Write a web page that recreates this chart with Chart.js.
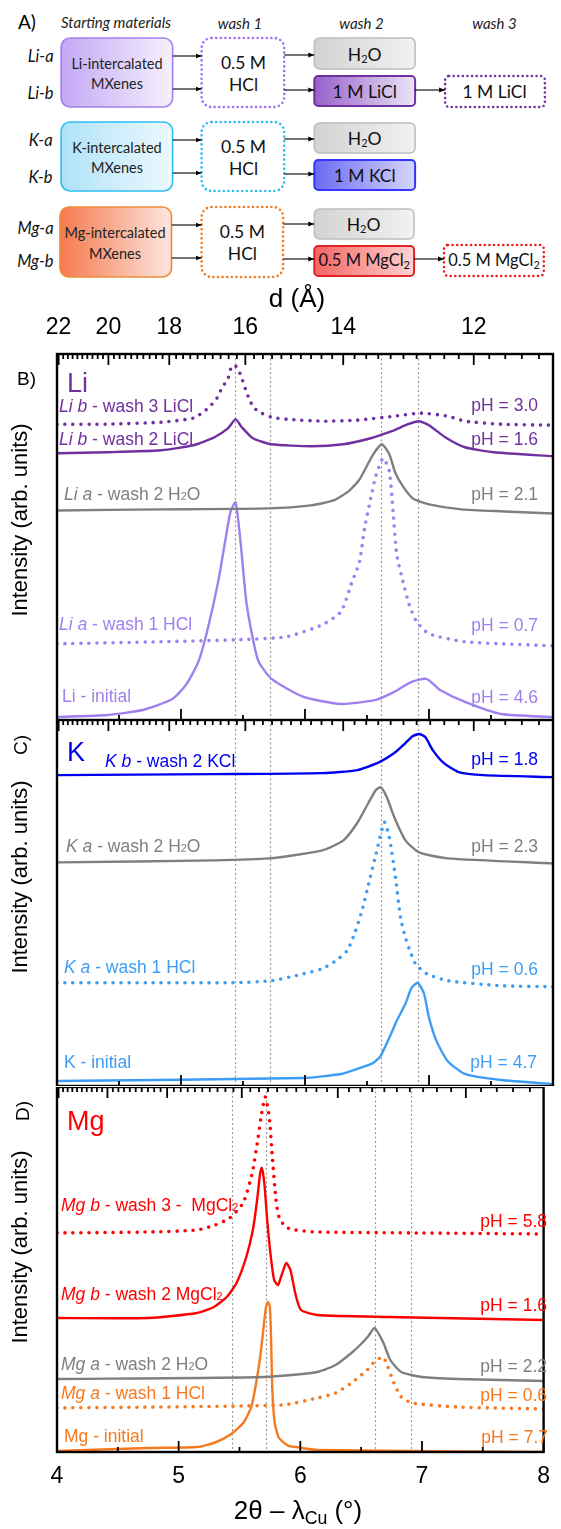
<!DOCTYPE html>
<html>
<head>
<meta charset="utf-8">
<script src="https://cdn.jsdelivr.net/npm/chart.js@4.4.1/dist/chart.umd.min.js"></script>
<style>
  html, body { margin: 0; padding: 0; background: #fff; }
  #page { position: relative; width: 561px; height: 1529px; overflow: hidden; font-family: "Liberation Sans", Arial, sans-serif; }
  #page canvas { position: absolute; left: 0; }
  #schema { position: absolute; left: 0; top: 0; }
  .lbl { position: absolute; white-space: nowrap; line-height: 1; transform: translateY(-50%); font-size: 17.5px; }
  .rot { position: absolute; white-space: nowrap; line-height: 1; transform: translate(-50%, -50%) rotate(-90deg); }
  .mid { position: absolute; white-space: nowrap; line-height: 1; transform: translate(-50%, -50%); }
  .s { font-size: 0.62em; }
  sub { font-size: 0.68em; vertical-align: -0.28em; line-height: 0; }
</style>
</head>
<body>
<div id="page">
  <svg id="schema" width="561" height="285" font-family="Lato, 'Open Sans', sans-serif" dominant-baseline="central">
    <defs>
      <linearGradient id="gLi"><stop offset="0" stop-color="#C4A8F5"/><stop offset="1" stop-color="#F5F1FD"/></linearGradient>
      <linearGradient id="gK"><stop offset="0" stop-color="#AEE2F8"/><stop offset="1" stop-color="#EDF9FE"/></linearGradient>
      <linearGradient id="gMg"><stop offset="0" stop-color="#F47A4E"/><stop offset="1" stop-color="#FDE6DE"/></linearGradient>
      <linearGradient id="gH2O"><stop offset="0" stop-color="#D3D3D3"/><stop offset="1" stop-color="#F2F2F2"/></linearGradient>
      <linearGradient id="gLiCl"><stop offset="0" stop-color="#9560C9"/><stop offset="1" stop-color="#ECE4F6"/></linearGradient>
      <linearGradient id="gKCl"><stop offset="0" stop-color="#6A6AF3"/><stop offset="1" stop-color="#D6D6FD"/></linearGradient>
      <linearGradient id="gMgCl"><stop offset="0" stop-color="#F56464"/><stop offset="1" stop-color="#FDD3D3"/></linearGradient>
      <marker id="ah" viewBox="0 0 10 10" refX="10" refY="5" markerWidth="6" markerHeight="6" orient="auto" markerUnits="userSpaceOnUse">
        <path d="M0,1 L10,5 L0,9 z" fill="#000"/>
      </marker>
    </defs>
    <text x="18" y="21" font-size="19">A)</text>
    <g font-style="italic" font-size="15" text-anchor="middle" fill="#222">
      <text x="116" y="22">Starting materials</text>
      <text x="240" y="23">wash 1</text>
      <text x="361.5" y="23">wash 2</text>
      <text x="494.5" y="23">wash 3</text>
    </g>
    <g font-style="italic" font-size="16.5" text-anchor="end" fill="#111">
      <text x="53.6" y="56">Li-a</text>
      <text x="53.6" y="93">Li-b</text>
      <text x="52.6" y="140">K-a</text>
      <text x="52.6" y="177">K-b</text>
      <text x="53.6" y="228">Mg-a</text>
      <text x="53.6" y="261">Mg-b</text>
    </g>
    <!-- starting materials -->
    <rect x="61.1" y="38" width="111.5" height="69" rx="9" fill="url(#gLi)" stroke="#A480F0" stroke-width="1.6"/>
    <rect x="61.1" y="122" width="111.5" height="69" rx="9" fill="url(#gK)" stroke="#2EBFF2" stroke-width="1.6"/>
    <rect x="60" y="207" width="111.5" height="70" rx="9" fill="url(#gMg)" stroke="#F08A3A" stroke-width="1.6"/>
    <g font-size="14.5" text-anchor="middle" fill="#222">
      <text x="117" y="63">Li-intercalated</text>
      <text x="117" y="83">MXenes</text>
      <text x="117" y="147">K-intercalated</text>
      <text x="117" y="167">MXenes</text>
      <text x="115" y="232">Mg-intercalated</text>
      <text x="115" y="253">MXenes</text>
    </g>
    <!-- wash 1 -->
    <g fill="#fff" stroke-width="2.6" stroke-dasharray="0 4.6" stroke-linecap="round">
      <rect x="201.6" y="38" width="82.6" height="69" rx="10" stroke="#A070F0"/>
      <rect x="201.6" y="122" width="82.6" height="69" rx="10" stroke="#2ABDF0"/>
      <rect x="201.6" y="207" width="81.5" height="70" rx="10" stroke="#F27B22"/>
    </g>
    <g font-size="17.5" text-anchor="middle" fill="#111">
      <text x="243.5" y="62">0.5 M</text>
      <text x="243.5" y="84">HCl</text>
      <text x="243.5" y="146">0.5 M</text>
      <text x="243.5" y="168">HCl</text>
      <text x="242.4" y="231">0.5 M</text>
      <text x="242.4" y="253">HCl</text>
    </g>
    <!-- wash 2 -->
    <rect x="314.3" y="38" width="100.8" height="31" rx="5" fill="url(#gH2O)" stroke="#BDBDBD" stroke-width="1.5"/>
    <rect x="314.3" y="76" width="100.8" height="30" rx="4" fill="url(#gLiCl)" stroke="#7030A0" stroke-width="2"/>
    <rect x="314.3" y="123" width="100.8" height="30" rx="5" fill="url(#gH2O)" stroke="#BDBDBD" stroke-width="1.5"/>
    <rect x="314.3" y="160" width="100.8" height="30" rx="4" fill="url(#gKCl)" stroke="#3535FF" stroke-width="2"/>
    <rect x="314.3" y="209" width="99.8" height="30" rx="5" fill="url(#gH2O)" stroke="#BDBDBD" stroke-width="1.5"/>
    <rect x="314.3" y="246" width="99.8" height="30" rx="4" fill="url(#gMgCl)" stroke="#E52222" stroke-width="2"/>
    <!-- wash 3 -->
    <g fill="#fff" stroke-width="2.6" stroke-dasharray="0 4.6" stroke-linecap="round">
      <rect x="445.1" y="76" width="99.8" height="31" rx="4" stroke="#7030A0"/>
      <rect x="444" y="245" width="99.8" height="31" rx="4" stroke="#EE1C1C"/>
    </g>
    <g font-size="17.5" text-anchor="middle" fill="#111">
      <text x="364.7" y="54">H<tspan font-size="11" dy="4">2</tspan><tspan dy="-4">O</tspan></text>
      <text x="364.7" y="91">1 M LiCl</text>
      <text x="364.7" y="138">H<tspan font-size="11" dy="4">2</tspan><tspan dy="-4">O</tspan></text>
      <text x="364.7" y="175">1 M KCl</text>
      <text x="363.6" y="224">H<tspan font-size="11" dy="4">2</tspan><tspan dy="-4">O</tspan></text>
      <text x="494.5" y="91">1 M LiCl</text>
    </g>
    <g font-size="16.5" text-anchor="middle" fill="#111">
      <text x="364.2" y="260">0.5 M MgCl<tspan font-size="11" dy="4">2</tspan></text>
      <text x="494" y="260">0.5 M MgCl<tspan font-size="11" dy="4">2</tspan></text>
    </g>
    <!-- arrows -->
    <g stroke="#000" stroke-width="1.1" marker-end="url(#ah)">
      <line x1="172.7" y1="56" x2="201.6" y2="56"/>
      <line x1="172.7" y1="89" x2="201.6" y2="89"/>
      <line x1="284.2" y1="55" x2="314.3" y2="55"/>
      <line x1="284.2" y1="90" x2="314.3" y2="90"/>
      <line x1="415.1" y1="90" x2="445.1" y2="90"/>
      <line x1="172.7" y1="140" x2="201.6" y2="140"/>
      <line x1="172.7" y1="173" x2="201.6" y2="173"/>
      <line x1="284.2" y1="139" x2="314.3" y2="139"/>
      <line x1="284.2" y1="174" x2="314.3" y2="174"/>
      <line x1="171.6" y1="225" x2="201.6" y2="225"/>
      <line x1="171.6" y1="258" x2="201.6" y2="258"/>
      <line x1="283.2" y1="224" x2="314.3" y2="224"/>
      <line x1="283.2" y1="259" x2="314.3" y2="259"/>
      <line x1="414" y1="259" x2="444" y2="259"/>
    </g>
  </svg>
  <canvas id="chartB" width="561" height="434" style="top:286px"></canvas>
  <canvas id="chartC" width="561" height="366" style="top:720px"></canvas>
  <canvas id="chartD" width="561" height="442" style="top:1087px"></canvas>
</div>
<script>
// 2theta (deg) and intensity (arb. units, each panel 0..365)
// B) Li
const liB3X = [4.00, 4.41, 4.84, 5.10, 5.19, 5.25, 5.29, 5.33, 5.38, 5.40, 5.43, 5.46, 5.49, 5.52, 5.55, 5.59, 5.65, 5.73, 5.85, 6.14, 6.42, 6.72, 6.94, 7.15, 7.29, 7.58, 8.00];
const liB3Y = [295, 295, 297, 301, 308, 315, 321, 331, 341, 350, 354, 350, 341, 330, 320, 311, 306, 302, 300, 298, 299, 303, 306, 303, 298, 295, 294];
const liB2X = [4.00, 4.41, 4.84, 5.10, 5.27, 5.38, 5.44, 5.49, 5.58, 5.73, 6.05, 6.31, 6.53, 6.70, 6.83, 6.92, 7.00, 7.13, 7.29, 7.52, 8.00];
const liB2Y = [266, 267, 269, 274, 282, 291, 300, 292, 281, 275, 273, 275, 281, 288, 295, 298, 294, 282, 272, 267, 263];
const liA2X = [4.00, 4.84, 5.71, 6.05, 6.23, 6.35, 6.44, 6.55, 6.62, 6.68, 6.73, 6.79, 6.87, 7.00, 7.26, 7.61, 8.00];
const liA2Y = [209, 210, 211, 214, 219, 228, 240, 265, 275, 265, 246, 233, 221, 215, 210, 208, 206];
const liA1X = [4.00, 4.84, 5.45, 5.85, 6.14, 6.29, 6.38, 6.44, 6.48, 6.53, 6.57, 6.63, 6.68, 6.71, 6.74, 6.79, 6.84, 6.90, 7.00, 7.29, 8.00];
const liA1Y = [76, 78, 80, 83, 95, 108, 138, 158, 191, 221, 243, 261, 248, 208, 165, 138, 115, 98, 86, 78, 74];
const liInitX = [4.00, 4.41, 4.69, 4.93, 5.04, 5.14, 5.21, 5.30, 5.36, 5.40, 5.44, 5.48, 5.53, 5.62, 5.73, 5.99, 6.29, 6.57, 6.72, 6.86, 6.98, 7.09, 7.29, 7.58, 8.00];
const liInitY = [3, 5, 10, 21, 35, 58, 88, 138, 181, 208, 217, 178, 115, 60, 41, 23, 16, 20, 28, 38, 41, 30, 18, 6, 3];
// C) K
const kB2X = [4.00, 5.27, 6.14, 6.42, 6.60, 6.72, 6.81, 6.87, 6.92, 6.97, 7.03, 7.12, 7.24, 7.44, 8.00];
const kB2Y = [310, 311, 312, 315, 323, 332, 342, 349, 351, 348, 335, 322, 313, 310, 308];
const kA2X = [4.00, 5.27, 5.71, 6.14, 6.31, 6.42, 6.51, 6.57, 6.61, 6.66, 6.72, 6.81, 6.92, 7.15, 8.00];
const kA2Y = [223, 225, 227, 235, 245, 262, 282, 295, 298, 288, 268, 245, 233, 227, 222];
const kA1X = [4.00, 4.84, 5.42, 5.73, 5.99, 6.14, 6.25, 6.34, 6.40, 6.46, 6.51, 6.57, 6.64, 6.68, 6.73, 6.77, 6.81, 6.84, 6.89, 6.98, 7.15, 7.58, 8.00];
const kA1Y = [103, 103, 103, 105, 112, 117, 125, 135, 152, 175, 200, 230, 263, 248, 208, 168, 148, 137, 122, 112, 105, 100, 99];
const kInitX = [4.00, 5.99, 6.29, 6.42, 6.55, 6.61, 6.68, 6.74, 6.81, 6.86, 6.91, 6.96, 7.00, 7.06, 7.15, 7.29, 7.58, 8.00];
const kInitY = [5, 8, 12, 17, 23, 30, 48, 65, 82, 98, 103, 92, 68, 45, 25, 12, 6, 2];
// D) Mg
const mgB3X = [4.00, 4.75, 5.15, 5.30, 5.42, 5.53, 5.605, 5.65, 5.677, 5.712, 5.745, 5.77, 5.80, 5.825, 5.88, 5.96, 6.14, 7.00, 8.00];
const mgB3Y = [219, 220, 222, 227, 234, 249, 279, 312, 335, 355, 335, 295, 252, 235, 225, 222, 220, 219, 218];
const mgB2X = [4.00, 4.75, 5.15, 5.29, 5.395, 5.476, 5.556, 5.61, 5.645, 5.67, 5.683, 5.704, 5.73, 5.758, 5.785, 5.817, 5.852, 5.885, 5.919, 5.96, 6.005, 6.14, 6.72, 8.00];
const mgB2Y = [134, 134, 139, 145, 155, 169, 195, 222, 252, 279, 284, 269, 229, 195, 172, 167, 179, 189, 182, 158, 142, 137, 135, 132];
const mgA2X = [4.00, 5.71, 6.14, 6.29, 6.42, 6.50, 6.56, 6.61, 6.68, 6.74, 6.83, 7.00, 7.29, 8.00];
const mgA2Y = [73, 75, 80, 87, 99, 108, 116, 124, 110, 92, 80, 75, 73, 71];
const mgA1X = [4.00, 5.85, 6.14, 6.29, 6.42, 6.55, 6.60, 6.68, 6.72, 6.77, 6.83, 6.92, 7.29, 8.00];
const mgA1Y = [44, 47, 54, 59, 69, 82, 89, 95, 85, 69, 55, 49, 45, 43];
const mgInitX = [4.00, 4.75, 5.15, 5.29, 5.42, 5.53, 5.597, 5.637, 5.67, 5.696, 5.718, 5.734, 5.75, 5.76, 5.77, 5.79, 5.825, 5.905, 5.96, 6.14, 8.00];
const mgInitY = [1, 4, 5, 9, 17, 29, 45, 69, 95, 122, 145, 150, 145, 112, 62, 29, 14, 6, 5, 2, 0];

// axes
const xTicksMajor = [4, 5, 6, 7, 8];
const xTicksMinor = [4.5, 5.5, 6.5, 7.5];
const dTickLabels = [22, 20, 18, 16, 14, 12];
const refLines = [5.435, 5.72, 6.61, 6.91];
const LAMBDA_CU = 1.5406;

const C = {
  darkPurple: "#7030A0",
  lightPurple: "#9F80F0",
  gray: "#7F7F7F",
  blue: "#0000F0",
  lightBlue: "#3D9CF5",
  red: "#FF0000",
  orange: "#F7791F"
};

Chart.defaults.font.family = '"Liberation Sans", Arial, sans-serif';
Chart.defaults.color = "#000";

function twoTheta(d) {
  return 2 * Math.asin(LAMBDA_CU / (2 * d)) * 180 / Math.PI;
}

function series(xs, ys, color, dotted) {
  return {
    data: xs.map((x, i) => ({ x, y: ys[i] })),
    borderColor: color,
    borderWidth: dotted ? 3.6 : 2.4,
    borderDash: dotted ? [0, 8] : [],
    borderCapStyle: dotted ? "round" : "butt",
    tension: 0.2,
    pointRadius: 0,
    fill: false
  };
}

const axisDecor = {
  id: "axisDecor",
  beforeDatasetsDraw(chart) {
    const { ctx, chartArea: a } = chart;
    const x = chart.scales.x;
    ctx.save();
    ctx.strokeStyle = "#9a9a9a";
    ctx.lineWidth = 1.2;
    ctx.setLineDash([2, 2.5]);
    refLines.forEach((v) => {
      const px = Math.round(x.getPixelForValue(v)) + 0.5;
      ctx.beginPath();
      ctx.moveTo(px, a.top);
      ctx.lineTo(px, a.bottom);
      ctx.stroke();
    });
    ctx.restore();
  },
  afterDraw(chart) {
    const { ctx, chartArea: a } = chart;
    const x = chart.scales.x;
    ctx.save();
    ctx.strokeStyle = "#000";
    ctx.lineWidth = 1.8;
    const tick = (v, y0, len) => {
      const px = x.getPixelForValue(v);
      ctx.beginPath();
      ctx.moveTo(px, y0);
      ctx.lineTo(px, y0 + len);
      ctx.stroke();
    };
    xTicksMajor.forEach((v) => tick(v, a.bottom, -11));
    xTicksMinor.forEach((v) => tick(v, a.bottom, -5));
    // d axis: minor every 0.2 A, major every 2 A
    for (let i = 0; i <= 60; i++) {
      const d = 22 - i * 0.2;
      const v = twoTheta(d);
      if (v > 7.99) break;
      const major = i % 10 === 0;
      tick(v, a.top, major ? 11 : 5);
    }
    ctx.lineWidth = 2.4;
    ctx.strokeRect(a.left, a.top, a.right - a.left, a.bottom - a.top);
    ctx.restore();
  }
};

function panel(id, datasets, extraScales) {
  return new Chart(document.getElementById(id), {
    type: "line",
    data: { datasets },
    options: {
      responsive: false,
      animation: false,
      events: [],
      layout: { padding: { left: 57, right: 8, top: 0, bottom: 0 } },
      plugins: { legend: { display: false }, tooltip: { enabled: false } },
      scales: Object.assign({
        x: { type: "linear", min: 4, max: 8, display: false },
        y: { type: "linear", min: 0, max: 365, display: false }
      }, extraScales)
    },
    plugins: [axisDecor]
  });
}

panel("chartB", [
  series(liB3X, liB3Y, C.darkPurple, true),
  series(liB2X, liB2Y, C.darkPurple, false),
  series(liA2X, liA2Y, C.gray, false),
  series(liA1X, liA1Y, C.lightPurple, true),
  series(liInitX, liInitY, C.lightPurple, false)
], {
  xTop: {
    axis: "x", type: "linear", position: "top", min: 4, max: 8,
    afterBuildTicks: (s) => { s.ticks = dTickLabels.map((d) => ({ value: twoTheta(d) })); },
    afterFit: (s) => { s.height = 68; },
    grid: { display: false, drawTicks: false },
    border: { display: false },
    ticks: { autoSkip: false, maxRotation: 0, padding: 13, font: { size: 23 }, callback: (v, i) => String(dTickLabels[i]) }
  }
});

panel("chartC", [
  series(kB2X, kB2Y, C.blue, false),
  series(kA2X, kA2Y, C.gray, false),
  series(kA1X, kA1Y, C.lightBlue, true),
  series(kInitX, kInitY, C.lightBlue, false)
], {});

panel("chartD", [
  series(mgB3X, mgB3Y, C.red, true),
  series(mgB2X, mgB2Y, C.red, false),
  series(mgA2X, mgA2Y, C.gray, false),
  series(mgA1X, mgA1Y, C.orange, true),
  series(mgInitX, mgInitY, C.orange, false)
], {
  x: {
    type: "linear", position: "bottom", min: 4, max: 8,
    afterBuildTicks: (s) => { s.ticks = xTicksMajor.map((v) => ({ value: v })); },
    afterFit: (s) => { s.height = 77; },
    grid: { display: false, drawTicks: false },
    border: { display: false },
    ticks: { autoSkip: false, maxRotation: 0, padding: 11, font: { size: 23 }, callback: (v) => String(v) }
  }
});

// text overlays
const page = document.getElementById("page");
function addText(cls, html, x, y, color, size, right) {
  const el = document.createElement("div");
  el.className = cls;
  el.innerHTML = html;
  el.style.color = color;
  el.style.top = y + "px";
  if (right) el.style.right = (561 - x) + "px";
  else el.style.left = x + "px";
  if (size) el.style.fontSize = size + "px";
  page.appendChild(el);
}

const H2O = 'H<span class="s">2</span>O';
const MGCL2 = 'MgCl<span class="s">2</span>';

const curveLabels = [
  ["<i>Li b</i> - wash 3 LiCl", 59, 407, C.darkPurple],
  ["<i>Li b</i> - wash 2 LiCl", 59, 440, C.darkPurple],
  ["<i>Li a</i> - wash 2 " + H2O, 64, 495, C.gray],
  ["<i>Li a</i> - wash 1 HCl", 59, 625, C.lightPurple],
  ["Li - initial", 62, 697, C.lightPurple],
  ["<i>K b</i> - wash 2 KCl", 105, 762, C.blue],
  ["<i>K a</i> - wash 2 " + H2O, 66, 847, C.gray],
  ["<i>K a</i> - wash 1 HCl", 64, 968, C.lightBlue],
  ["K - initial", 64, 1063, C.lightBlue],
  ["<i>Mg b</i> - wash 3 -&nbsp; " + MGCL2, 61, 1206, C.red],
  ["<i>Mg b</i> - wash 2 " + MGCL2, 61, 1295, C.red],
  ["<i>Mg a</i> - wash 2 " + H2O, 61, 1365, C.gray],
  ["<i>Mg a</i> - wash 1 HCl", 61, 1394, C.orange],
  ["Mg - initial", 64, 1437, C.orange]
];
curveLabels.forEach(([t, x, y, c]) => addText("lbl", t, x, y, c));

const phLabels = [
  ["pH = 3.0", 538, 406, C.darkPurple],
  ["pH = 1.6", 538, 440, C.darkPurple],
  ["pH = 2.1", 538, 495, C.gray],
  ["pH = 0.7", 538, 626, C.lightPurple],
  ["pH = 4.6", 538, 698, C.lightPurple],
  ["pH = 1.8", 538, 760, C.blue],
  ["pH = 2.3", 538, 847, C.gray],
  ["pH = 0.6", 538, 970, C.lightBlue],
  ["pH = 4.7", 537, 1063, C.lightBlue],
  ["pH = 5.8", 547, 1222, C.red],
  ["pH = 1.6", 547, 1306, C.red],
  ["pH = 2.2", 547, 1367, C.gray],
  ["pH = 0.6", 547, 1396, C.orange],
  ["pH = 7.7", 548, 1438, C.orange]
];
phLabels.forEach(([t, x, y, c]) => addText("lbl", t, x, y, c, null, true));

addText("lbl", "B)", 17, 378, "#000", 19);
addText("lbl", "Li", 67, 383, C.darkPurple, 27);
addText("lbl", "K", 67, 752, C.blue, 27);
addText("lbl", "Mg", 67, 1121, C.red, 27);
addText("rot", "C)", 20, 745, "#000", 19);
addText("rot", "D)", 21.5, 1111, "#000", 19);
[520, 877, 1247].forEach((y) => addText("rot", "Intensity (arb. units)", 20, y, "#000", 22));
addText("mid", "d (Å)", 297, 298, "#000", 26);
addText("mid", "2θ – λ<sub>Cu</sub> (°)", 298, 1510, "#000", 26);
</script>
</body>
</html>
